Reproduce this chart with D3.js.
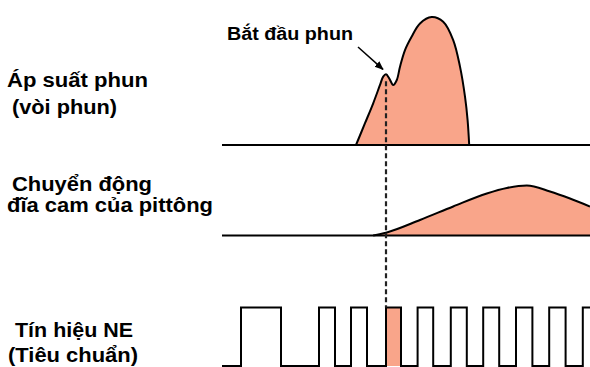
<!DOCTYPE html>
<html>
<head>
<meta charset="utf-8">
<script src="https://cdn.jsdelivr.net/npm/d3@7"></script>
<style>
  html, body { margin: 0; padding: 0; background: #fff; }
  svg { display: block; }
  text { font-family: "Liberation Sans", Arial, sans-serif; font-weight: bold; fill: #000; }
</style>
</head>
<body>
<svg id="chart" width="590" height="367"></svg>
<script>
// Crank angle (degrees, 0 = start of injection) vs injection pressure at the nozzle (% of peak)
const pressureAngle = [-7.5, -5.25, -3.2, -1.5, -0.7, 0, 0.8, 1.8, 2.7, 3.5, 4.75, 6.4, 8.5, 11.4, 14.3, 16.8, 18.5, 19.75, 20.4, 20.8];
const pressureValue = [0, 17, 32.6, 46.9, 53.4, 55.2, 52.1, 46.9, 50.8, 61.2, 74.2, 84.6, 95, 100, 96.3, 82, 61.2, 37.8, 19.5, 0];

// Crank angle vs plunger cam-disc lift (mm)
const camAngle = [-3.2, 0, 8.5, 16.8, 25.2, 30.2, 35.2, 41, 46, 51];
const camLift  = [0, 0.56, 3.1, 5.8, 8.4, 9.5, 10, 8.8, 7.4, 5.8];

// NE pulse signal: rising and falling edges (crank angle)
const pulseRise = [-36.25, -16.75, -8.75, 0, 7.9, 16.2, 24.3, 32.5, 40.8, 49.2];
const pulseFall = [-26.25, -12.75, -4.75, 3.75, 11.8, 20.2, 28.3, 36.6, 44.9, 51];

// Labels
const rowLabels = [
  ["Áp suất phun", "(vòi phun)"],
  ["Chuyển động", "đĩa cam của pittông"],
  ["Tín hiệu NE", "(Tiêu chuẩn)"]
];
const startLabel = "Bắt đầu phun";
const injectionStart = 0;
const angleDomain = [-41, 51];

const fillColor = "#f9a58a";
const svg = d3.select("#chart");

const x = d3.scaleLinear().domain(angleDomain).range([222, 590]);
const yP = d3.scaleLinear().domain([0, 100]).range([145, 17]);
const yC = d3.scaleLinear().domain([0, 10]).range([235.5, 185.5]);
const yN = d3.scaleLinear().domain([0, 1]).range([366, 307.5]);

const pressure = pressureAngle.map((a, i) => [a, pressureValue[i]]);
const cam = camAngle.map((a, i) => [a, camLift[i]]);

// --- Injection pressure ---
svg.append("path")
  .datum(pressure)
  .attr("fill", fillColor)
  .attr("d", d3.area().x(d => x(d[0])).y0(yP(0)).y1(d => yP(d[1])).curve(d3.curveCatmullRom));
svg.append("path")
  .datum(pressure)
  .attr("fill", "none").attr("stroke", "#000").attr("stroke-width", 2)
  .attr("d", d3.line().x(d => x(d[0])).y(d => yP(d[1])).curve(d3.curveCatmullRom));
svg.append("line")
  .attr("x1", x(angleDomain[0])).attr("x2", x(angleDomain[1]))
  .attr("y1", yP(0)).attr("y2", yP(0))
  .attr("stroke", "#000").attr("stroke-width", 2);

// --- Cam disc movement ---
svg.append("path")
  .datum(cam)
  .attr("fill", fillColor)
  .attr("d", d3.area().x(d => x(d[0])).y0(yC(0)).y1(d => yC(d[1])).curve(d3.curveMonotoneX));
svg.append("path")
  .datum(cam)
  .attr("fill", "none").attr("stroke", "#000").attr("stroke-width", 2)
  .attr("d", d3.line().x(d => x(d[0])).y(d => yC(d[1])).curve(d3.curveMonotoneX));
svg.append("line")
  .attr("x1", x(angleDomain[0])).attr("x2", x(angleDomain[1]))
  .attr("y1", yC(0)).attr("y2", yC(0))
  .attr("stroke", "#000").attr("stroke-width", 2);

// --- NE signal ---
const hi = pulseRise.findIndex(r => r === injectionStart);
svg.append("rect")
  .attr("x", x(pulseRise[hi])).attr("width", x(pulseFall[hi]) - x(pulseRise[hi]))
  .attr("y", yN(1)).attr("height", yN(0) - yN(1))
  .attr("fill", fillColor);

const steps = [[angleDomain[0], 0]];
pulseRise.forEach((r, i) => {
  const f = pulseFall[i];
  steps.push([r, 0], [r, 1], [f, 1]);
  if (f < angleDomain[1]) steps.push([f, 0]);
});
svg.append("path")
  .datum(steps)
  .attr("fill", "none").attr("stroke", "#000").attr("stroke-width", 2)
  .attr("stroke-linejoin", "miter")
  .attr("d", d3.line().x(d => x(d[0])).y(d => yN(d[1])));

// --- Start-of-injection marker ---
svg.append("line")
  .attr("x1", x(injectionStart)).attr("x2", x(injectionStart))
  .attr("y1", yP(55.2) + 7).attr("y2", yN(1))
  .attr("stroke", "#222").attr("stroke-width", 2.2)
  .attr("stroke-dasharray", "5,3");

svg.append("defs").append("marker")
  .attr("id", "arrowhead")
  .attr("viewBox", "0 0 10 10").attr("refX", 9).attr("refY", 5)
  .attr("markerWidth", 9).attr("markerHeight", 9)
  .attr("markerUnits", "userSpaceOnUse")
  .attr("orient", "auto")
  .append("path").attr("d", "M0,1 L10,5 L0,9 Z").attr("fill", "#000");

svg.append("line")
  .attr("x1", 358).attr("y1", 47)
  .attr("x2", x(injectionStart) - 3).attr("y2", yP(55.2) - 5)
  .attr("stroke", "#000").attr("stroke-width", 1.5)
  .attr("marker-end", "url(#arrowhead)");

svg.append("text")
  .attr("x", 227).attr("y", 40)
  .attr("font-size", 18)
  .attr("textLength", 126).attr("lengthAdjust", "spacingAndGlyphs")
  .text(startLabel);

// --- Row labels ---
const labelLayout = [
  [{ x: 7, y: 87, w: 141 }, { x: 12, y: 114, w: 105 }],
  [{ x: 12, y: 191, w: 140 }, { x: 7, y: 212, w: 206 }],
  [{ x: 15, y: 337, w: 118 }, { x: 8, y: 362, w: 130 }]
];
rowLabels.forEach((lines, i) => {
  lines.forEach((t, j) => {
    const p = labelLayout[i][j];
    svg.append("text")
      .attr("x", p.x).attr("y", p.y)
      .attr("font-size", 20)
      .attr("textLength", p.w).attr("lengthAdjust", "spacingAndGlyphs")
      .text(t);
  });
});
</script>
</body>
</html>
